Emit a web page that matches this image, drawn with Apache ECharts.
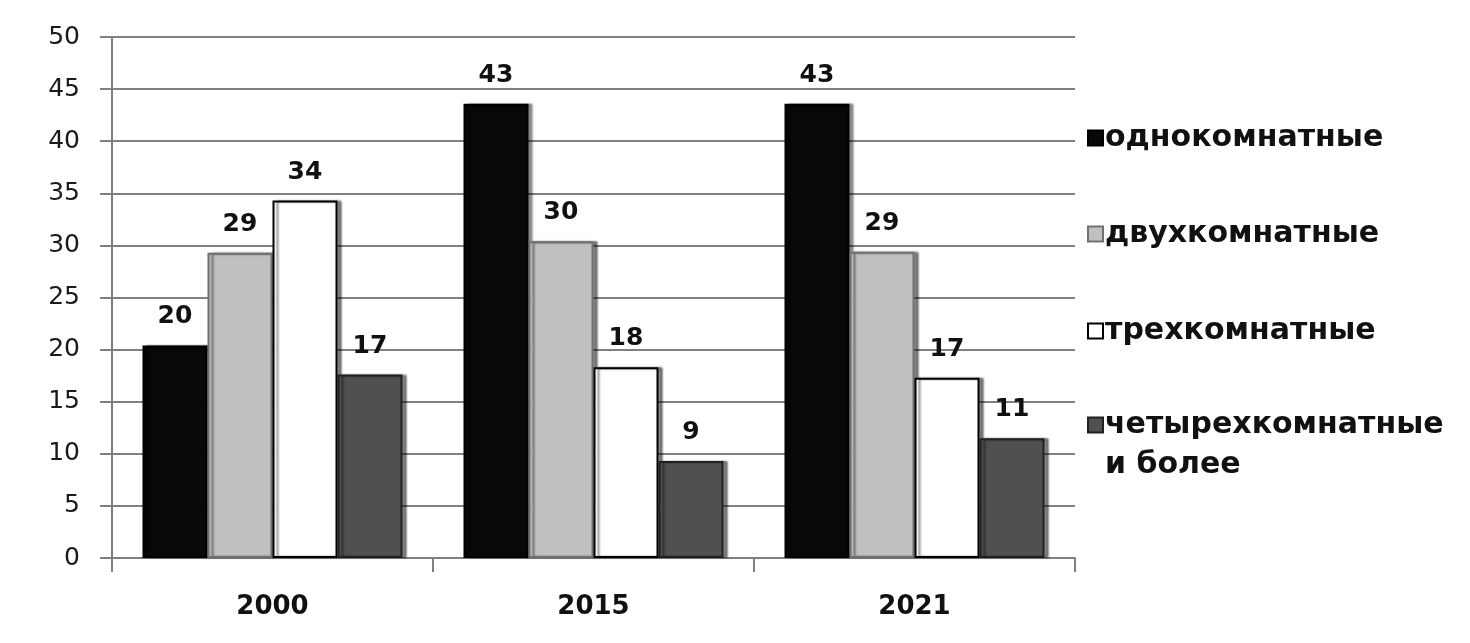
<!DOCTYPE html>
<html><head><meta charset="utf-8">
<script src="https://cdn.jsdelivr.net/npm/echarts@6/dist/echarts.min.js"></script>
<style>html,body{margin:0;padding:0;background:#fff}#c{width:1470px;height:643px}</style>
</head><body><div id="c"></div>
<script>
const categories = ['2000', '2015', '2021'];
const seriesNames = ['однокомнатные', 'двухкомнатные', 'трехкомнатные', 'четырехкомнатные\nи более'];
const oneRoom = [20.4, 43.6, 43.6];
const twoRoom = [29.3, 30.4, 29.4];
const threeRoom = [34.3, 18.3, 17.3];
const fourRoom = [17.6, 9.3, 11.5];
const oneRoomLabels = ['20', '43', '43'];
const twoRoomLabels = ['29', '30', '29'];
const threeRoomLabels = ['34', '18', '17'];
const fourRoomLabels = ['17', '9', '11'];
const yTicks = [0, 5, 10, 15, 20, 25, 30, 35, 40, 45, 50];

const colors = ['#080808', '#c0c0c0', '#ffffff', '#505050'];
const borders = ['#000000', '#707070', '#000000', '#202020'];
const values = [oneRoom, twoRoom, threeRoom, fourRoom];
const labels = [oneRoomLabels, twoRoomLabels, threeRoomLabels, fourRoomLabels];
const font = '"DejaVu Sans", Verdana, sans-serif';

const legendTops = [116, 212, 309, 360];
const legends = seriesNames.map((n, i) => ({
  orient: 'vertical', left: 1082, top: legendTops[i], itemWidth: 15, itemHeight: 15,
  icon: 'rect',
  formatter: name => i === 3 ? '\n' + name : name,
  textStyle: {fontFamily: font, fontWeight: 'bold', fontSize: 30, color: '#111',
    lineHeight: i === 3 ? 40 : 34, padding: [0, 0, 0, -3]},
  data: [n]
}));

const chart = echarts.init(document.getElementById('c'), null, {renderer: 'canvas'});
chart.setOption({
  animation: false,
  backgroundColor: '#fff',
  grid: {left: 112, right: 395, top: 37, bottom: 85, containLabel: false},
  legend: legends,
  xAxis: {
    type: 'category', data: categories,
    axisLine: {lineStyle: {color: '#808080', width: 2}},
    axisTick: {show: true, length: 14, lineStyle: {color: '#808080', width: 2}},
    axisLabel: {fontFamily: font, fontWeight: 'bold', fontSize: 26, color: '#111', margin: 36}
  },
  yAxis: {
    type: 'value', min: 0, max: 50, interval: 5,
    axisLine: {show: true, lineStyle: {color: '#808080', width: 2}},
    axisTick: {show: true, length: 12, lineStyle: {color: '#808080', width: 2}},
    splitLine: {lineStyle: {color: '#808080', width: 2}},
    axisLabel: {fontFamily: font, fontSize: 25, color: '#1a1a1a', margin: 32,
      formatter: v => yTicks.includes(v) ? String(v) : ''}
  },
  series: values.map((vals, i) => ({
    name: seriesNames[i], type: 'bar', data: vals,
    barGap: '0%', barCategoryGap: '19%',
    itemStyle: {color: colors[i], borderColor: borders[i], borderWidth: 2,
      shadowColor: 'rgba(0,0,0,0.45)', shadowOffsetX: 4, shadowOffsetY: 0, shadowBlur: 2},
    label: {show: true, position: 'top', distance: 16, fontFamily: font, fontWeight: 'bold', fontSize: 25, color: '#111',
      formatter: p => labels[i][p.dataIndex]}
  }))
});
</script></body></html>
